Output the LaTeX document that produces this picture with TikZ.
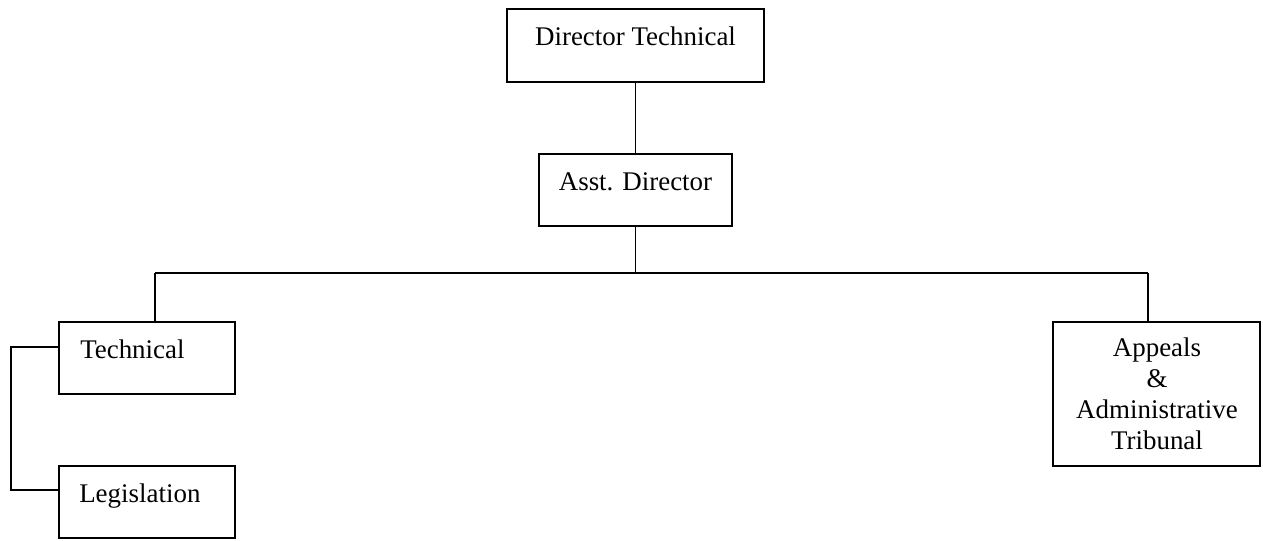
\documentclass[tikz,border=0pt]{standalone}
\usepackage{fontspec}
\setmainfont{Liberation Serif}
\begin{document}
\begin{tikzpicture}[x=0.75pt,y=-0.75pt,
  box/.style={draw,line width=1.4pt,inner sep=0pt,outer sep=0pt},
  lbl/.style={inner sep=0pt,font=\fontsize{20.2}{23.25}\selectfont},
  link/.style={line width=1.4pt}]
\useasboundingbox (0,0) rectangle (1263,540);

% boxes
\node[box,minimum width=192.75pt,minimum height=54.75pt] (dt) at (635.5,45.5) {};
\node[box,minimum width=144.75pt,minimum height=54pt] (asst) at (635.5,190) {};
\node[box,minimum width=132pt,minimum height=54pt] (tech) at (147,358) {};
\node[box,minimum width=132pt,minimum height=54pt] (leg) at (147,502) {};
\node[box,minimum width=155.25pt,minimum height=108pt] (app) at (1156.5,394) {};

% labels
\node[lbl,anchor=base] (dtT) at (635.5,45) {Director Technical};
\node[lbl,anchor=base] (asstT) at (635.5,190) {Asst. Director};
\node[lbl,anchor=base west] (techT) at (80,358) {Technical};
\node[lbl,anchor=base west] (legT) at (79,502) {Legislation};
% multi-line label: base anchor sits on the last line
\node[lbl,anchor=base,align=center] (appT) at (1157,449) {Appeals\\\&\\Administrative\\Tribunal};

% bus coordinates
\coordinate (b0) at (635.5,273);
\coordinate (bl) at (155,273);
\coordinate (br) at (1148,273);
\coordinate (bk) at (11,0);
\coordinate (tw) at ([yshift=8.25pt]tech.west);
\coordinate (lw) at ([yshift=9pt]leg.west);

% connectors
\draw[link] (dt.south) -- (asst.north);
\draw[link] (asst.south) -- (b0);
\draw[link] (bl) -- (br);
\draw[link] (bl) -- (bl |- tech.north);
\draw[link] (br) -- (br |- app.north);
\draw[link] (tw) -- (bk |- tw) -- (bk |- lw) -- (lw);
\end{tikzpicture}
\end{document}
